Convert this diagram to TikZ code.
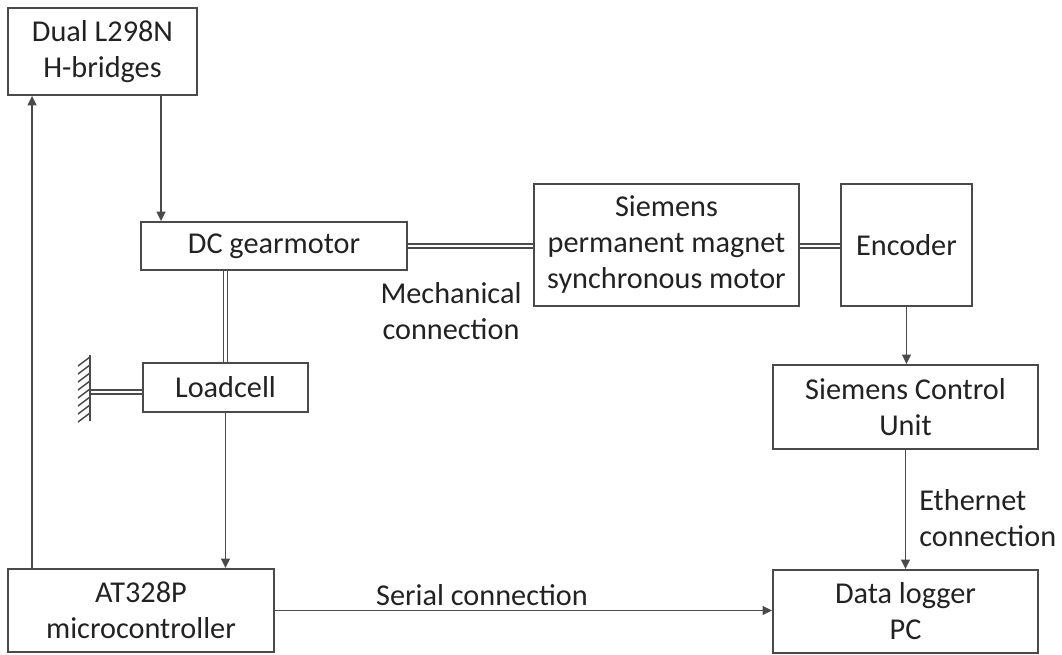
\documentclass[tikz,border=0pt]{standalone}
\usepackage{fontspec}
\setmainfont{Carlito}
\usetikzlibrary{arrows.meta}
\definecolor{linegray}{HTML}{4A4A4A}
\definecolor{textgray}{HTML}{222222}
\begin{document}
\begin{tikzpicture}[x=0.75pt,y=-0.75pt,
  every node/.style={text=textgray,font=\fontsize{22.7}{27}\selectfont},
  block/.style={draw=linegray,line width=1.4pt,align=center,inner sep=0pt},
  lbl/.style={inner sep=0pt},
  sig/.style={draw=linegray,line width=1.4pt,-{Triangle[length=7pt,width=6.5pt]}},
  shaft/.style={draw=linegray,line width=1.1pt,double=white,double distance=1.8pt},
  plainline/.style={draw=linegray,line width=1.4pt}]
\useasboundingbox (0,0) rectangle (1062,655);

% blocks
\node[block,minimum width=189*0.75pt,minimum height=87*0.75pt] (hb) at (102.5,51.5) {Dual L298N\\H-bridges};
\node[block,minimum width=266*0.75pt,minimum height=48*0.75pt] (gm) at (274,246) {DC gearmotor};
\node[block,minimum width=265*0.75pt,minimum height=122*0.75pt] (pm) at (666.5,245) {Siemens\\permanent magnet\\synchronous motor};
\node[block,minimum width=131*0.75pt,minimum height=122*0.75pt] (enc) at (906.5,245) {Encoder};
\node[block,minimum width=165*0.75pt,minimum height=49*0.75pt] (lc) at (225.5,387.5) {Loadcell};
\node[block,minimum width=265*0.75pt,minimum height=84*0.75pt] (cu) at (905.5,407) {Siemens Control\\Unit};
\node[block,minimum width=265*0.75pt,minimum height=83*0.75pt] (dl) at (905.5,611.5) {Data logger\\PC};
\node[block,minimum width=266*0.75pt,minimum height=83*0.75pt] (mc) at (141,610.5) {AT328P\\microcontroller};

% labels
\node[lbl,align=center] (mech) at (451,311) {Mechanical\\connection};
\node[lbl] (ser) at (482,595) {Serial connection};
\node[lbl,align=left,anchor=west] (eth) at (919,518) {Ethernet\\connection};

% mechanical couplings
\draw[shaft] (gm.east) -- (gm.east -| pm.west);
\draw[shaft] (pm.east |- gm.east) -- (gm.east -| enc.west);
\draw[shaft] (lc.north |- gm.south) -- (lc.north);

% fixed wall holding the load cell
\coordinate (wall) at (90,392);
\draw[shaft] (wall) -- (wall -| lc.west);
\draw[plainline] (90,355) -- (90,421);
\foreach \yy in {357,365,...,413}
  \draw[linegray,line width=1.1pt] (90,\yy) -- (78,\yy+9);

% signal lines
\draw[sig] ([xshift=115.5pt]hb.south west) -- ([xshift=115.5pt]hb.south west |- gm.north);
\draw[sig] ([xshift=18.75pt]mc.north west) -- ([xshift=18.75pt]mc.north west |- hb.south);
\draw[sig] (lc.south) -- (lc.south |- mc.north);
\draw[sig] (enc.south) -- (enc.south |- cu.north);
\draw[sig] (cu.south) -- (dl.north);
\draw[sig] (mc.east) -- (mc.east -| dl.west);
\end{tikzpicture}
\end{document}
